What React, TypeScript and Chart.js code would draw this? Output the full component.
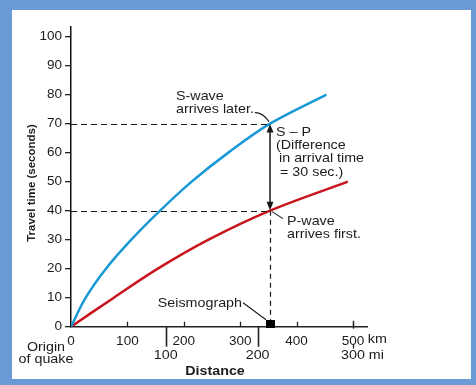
import React, { useEffect, useRef } from 'react';
import { Chart, registerables } from 'chart.js';

Chart.register(...registerables);

// ---- data ----
const yTicks = [0, 10, 20, 30, 40, 50, 60, 70, 80, 90, 100];
const kmTicks = [0, 100, 200, 300, 400, 500];
const mileLabels = [100, 200, 300];
const mileTickKm = [168, 331, 500];
const sWaveKm = [0, 26, 62, 107, 158, 214, 279, 353, 453];
const sWaveSec = [0, 10, 20, 30, 40, 50, 60, 70, 80];
const pWaveKm = [0, 76, 154, 244, 353, 491];
const pWaveSec = [0, 10, 20, 30, 40, 50];
const seismographKm = 353;
const sArrivalSec = 70;
const pArrivalSec = 40;
const xMax = 525;
const yMax = 103.3;

const FONT = '"Liberation Sans", Arial, Helvetica, sans-serif';
const TEXT = '#1c1c1c';
const BLUE = '#1898d6';
const RED = '#c8141c';
const STRETCH = 1.1;

const annotationPlugin = {
  id: 'seismoAnnotations',
  afterDraw(chart: any) {
    const { ctx } = chart;
    const x = chart.scales.x;
    const y = chart.scales.y;
    const x0 = x.getPixelForValue(0);
    const y0 = y.getPixelForValue(0);
    const sx = x.getPixelForValue(seismographKm);
    const yS = y.getPixelForValue(sArrivalSec);
    const yP = y.getPixelForValue(pArrivalSec);

    const line = (ax: number, ay: number, bx: number, by: number) => {
      ctx.beginPath();
      ctx.moveTo(ax, ay);
      ctx.lineTo(bx, by);
      ctx.stroke();
    };
    // text drawn slightly widened, like the reference lettering; returns drawn width
    const text = (t: string, tx: number, ty: number, align: 'left' | 'center' | 'right' = 'left') => {
      ctx.save();
      ctx.translate(tx, ty);
      ctx.scale(STRETCH, 1);
      ctx.textAlign = align;
      ctx.textBaseline = 'middle';
      ctx.fillText(t, 0, 0);
      const w = ctx.measureText(t).width * STRETCH;
      ctx.restore();
      return w;
    };

    ctx.save();
    ctx.strokeStyle = '#222';
    ctx.lineWidth = 1.3;
    // km tick marks (upward)
    kmTicks.forEach((v) => {
      if (v === 0) return;
      const px = Math.round(x.getPixelForValue(v)) + 0.5;
      line(px, y0, px, y0 - 5);
    });
    // mile tick marks (downward)
    mileTickKm.forEach((km, i) => {
      const px = Math.round(x.getPixelForValue(km)) + 0.5;
      if (i < mileTickKm.length - 1) {
        ctx.lineWidth = 1.6;
        line(px, y0, px, y0 + 20);
      } else {
        ctx.lineWidth = 1.3;
        line(px, y0 - 6, px, y0 + 2);
        line(px, y0 + 17, px, y0 + 22);
      }
    });

    // mile labels
    ctx.fillStyle = TEXT;
    ctx.font = `13px ${FONT}`;
    mileLabels.forEach((m, i) => {
      const px = x.getPixelForValue(mileTickKm[i]);
      text(String(m), px, y0 + 29, 'center');
    });
    // units
    const px500 = x.getPixelForValue(kmTicks[kmTicks.length - 1]);
    const halfW = ctx.measureText('500').width / 2;
    text('km', px500 + halfW + 4, y0 + 12.5);
    const pxMi = x.getPixelForValue(mileTickKm[mileTickKm.length - 1]);
    text('mi', pxMi + halfW * STRETCH + 4, y0 + 29);

    // Origin of quake
    text('Origin', x0 - 25, y0 + 21, 'center');
    text('of quake', x0 - 25, y0 + 32.5, 'center');

    // Distance title
    ctx.font = `bold 13px ${FONT}`;
    text('Distance', 215, y0 + 45, 'center');

    // y title
    ctx.save();
    ctx.translate(31.5, 183);
    ctx.rotate(-Math.PI / 2);
    ctx.font = `bold 11.5px ${FONT}`;
    ctx.textAlign = 'center';
    ctx.textBaseline = 'middle';
    ctx.fillText('Travel time (seconds)', 0, 0);
    ctx.restore();

    // dashed guides
    ctx.strokeStyle = '#1a1a1a';
    ctx.lineWidth = 1.2;
    ctx.setLineDash([6, 4]);
    line(x0, Math.round(yS) + 0.5, sx, Math.round(yS) + 0.5);
    line(x0, Math.round(yP) + 0.5, sx, Math.round(yP) + 0.5);
    ctx.setLineDash([5, 4]);
    line(Math.round(sx) + 0.5, yP, Math.round(sx) + 0.5, y0 - 7);
    ctx.setLineDash([]);

    // double-headed arrow S - P
    ctx.lineWidth = 1.5;
    line(sx, yS + 6, sx, yP - 6);
    ctx.fillStyle = '#1a1a1a';
    ctx.beginPath();
    ctx.moveTo(sx, yS + 0.5);
    ctx.lineTo(sx - 3.5, yS + 9);
    ctx.lineTo(sx + 3.5, yS + 9);
    ctx.closePath();
    ctx.fill();
    ctx.beginPath();
    ctx.moveTo(sx, yP - 0.5);
    ctx.lineTo(sx - 3.5, yP - 9);
    ctx.lineTo(sx + 3.5, yP - 9);
    ctx.closePath();
    ctx.fill();

    // seismograph square
    ctx.fillStyle = '#000';
    ctx.fillRect(Math.round(sx) - 4, Math.round(y0) - 7, 9, 8);

    // annotation texts
    ctx.fillStyle = TEXT;
    ctx.font = `13px ${FONT}`;
    const sTextX = sx - 94;
    text('S-wave', sTextX, yS - 27);
    const laterEnd = sTextX + text('arrives later.', sTextX, yS - 14.5);
    text('S \u2013 P', sx + 6, yS + 8.5);
    text('(Difference', sx + 6, yS + 22);
    text('in arrival time', sx + 9, yS + 35.3);
    text('= 30 sec.)', sx + 10, yS + 48.5);
    text('P-wave', sx + 17, yP + 11);
    text('arrives first.', sx + 17, yP + 23.5);
    text('Seismograph', sx - 28, y0 - 23, 'right');

    // leader lines
    ctx.lineWidth = 1.1;
    ctx.strokeStyle = '#1a1a1a';
    ctx.beginPath();
    ctx.moveTo(laterEnd + 1, yS - 11);
    ctx.quadraticCurveTo(sx - 7, yS - 11, sx - 1, yS - 2);
    ctx.stroke();
    line(sx + 2, yP + 1, sx + 13, yP + 8);
    line(sx - 27, y0 - 24, sx - 4, y0 - 7);

    ctx.restore();
  },
};

export default function App() {
  const canvasRef = useRef<HTMLCanvasElement | null>(null);

  useEffect(() => {
    const canvas = canvasRef.current;
    if (!canvas) return;
    const chart = new Chart(canvas, {
      type: 'line',
      data: {
        datasets: [
          {
            label: 'S-wave',
            data: sWaveKm.map((v, i) => ({ x: v, y: sWaveSec[i] })),
            borderColor: BLUE,
            borderWidth: 2.5,
            pointRadius: 0,
            tension: 0.35,
            fill: false,
          },
          {
            label: 'P-wave',
            data: pWaveKm.map((v, i) => ({ x: v, y: pWaveSec[i] })),
            borderColor: RED,
            borderWidth: 2.5,
            pointRadius: 0,
            tension: 0.35,
            fill: false,
          },
        ],
      },
      options: {
        responsive: false,
        devicePixelRatio: 1,
        animation: false,
        events: [],
        layout: { padding: { left: 0, top: 27, right: 109, bottom: 0 } },
        plugins: { legend: { display: false }, tooltip: { enabled: false } },
        scales: {
          x: {
            type: 'linear',
            min: 0,
            max: xMax,
            afterBuildTicks: (s: any) => {
              s.ticks = kmTicks.map((v) => ({ value: v }));
            },
            afterFit: (s: any) => {
              s.height = 58.3;
            },
            grid: { display: false, drawTicks: false },
            border: { display: true, color: '#222', width: 1.5 },
            ticks: {
              autoSkip: false,
              maxRotation: 0,
              padding: 6,
              color: TEXT,
              font: { family: FONT, size: 13.5 },
              callback: (v: any) => String(v),
            },
          },
          y: {
            type: 'linear',
            min: 0,
            max: yMax,
            afterBuildTicks: (s: any) => {
              s.ticks = yTicks.map((v) => ({ value: v }));
            },
            afterFit: (s: any) => {
              s.width = 71;
            },
            grid: {
              display: true,
              drawOnChartArea: false,
              drawTicks: true,
              tickLength: 6,
              color: '#222',
              lineWidth: 1.3,
            },
            border: { display: true, color: '#111', width: 1.5 },
            ticks: {
              padding: 3,
              color: TEXT,
              font: { family: FONT, size: 13.5 },
              callback: (v: any) => String(v),
            },
          },
        },
      },
      plugins: [annotationPlugin],
    } as any);
    return () => chart.destroy();
  }, []);

  return (
    <div style={{ position: 'fixed', left: 0, top: 0, width: 476, height: 385, background: '#6b9bd7' }}>
      <div style={{ position: 'absolute', left: 12, top: 10, width: 459, height: 369, background: '#ffffff' }} />
      <canvas ref={canvasRef} width={476} height={385} style={{ position: 'absolute', left: 0, top: 0 }} />
    </div>
  );
}
